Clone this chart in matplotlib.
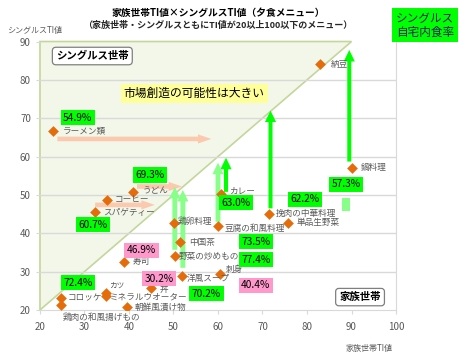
import matplotlib
matplotlib.use('Agg')
import matplotlib.pyplot as plt
from matplotlib.patches import Polygon, Rectangle

plt.rcParams['font.family'] = ['Noto Sans CJK JP', 'DejaVu Sans']

# メニューごとのTI値 (家族世帯, シングルス)
menus = ['納豆', '鍋料理', 'ラーメン類', 'うどん', 'コーヒー', 'スパゲティー',
         '鶏卵料理', '豆腐の和風料理', 'カレー', '中国茶', '野菜の炒めもの', '寿司',
         '洋風スープ', '刺身', '丼', 'カツ', 'ミネラルウオーター', 'コロッケ',
         '鶏肉の和風揚げもの', '朝鮮風漬け物', '挽肉の中華料理', '単品生野菜']
family_ti = [83, 90, 23, 41, 35, 32.4, 50.1, 60.1, 60.6, 51.5, 50.3, 38.9,
             52, 60.4, 44.9, 34.8, 34.8, 24.7, 24.7, 39.5, 71.5, 75.8]
single_ti = [84.1, 57.1, 66.7, 50.8, 48.8, 45.5, 42.7, 42.0, 50.2, 37.6, 34.0, 32.6,
             28.9, 29.4, 25.7, 24.4, 23.6, 23.1, 21.2, 20.8, 45.1, 42.7]

# シングルス自宅内食率
rates = ['54.9%', '69.3%', '60.7%', '63.0%', '62.2%', '57.3%', '73.5%',
         '77.4%', '40.4%', '46.9%', '30.2%', '70.2%', '72.4%']
rate_low = [False, False, False, False, False, False, False,
            False, True, True, True, False, False]

xticks = [20, 30, 40, 50, 60, 70, 80, 90, 100]
yticks = [20, 30, 40, 50, 60, 70, 80, 90]

# 配置 (表示位置)
label_off = [(10, 0), (9, 0), (9, 0), (9, 1), (8, 0), (8, 0),
             (4, 1), (6, -3), (8, 3), (9, 0), (4, 0), (9, 0),
             (4, -3), (6, 4), (9, -1), (3, 7), (4, -1), (7, 0),
             (2, -8), (8, 0), (7, 0), (8, 0)]
rate_pos = [(28.5, 70.1), (44.7, 55.2), (31.9, 42.2), (64.0, 48.0), (79.6, 48.9),
            (88.8, 52.8), (68.5, 37.8), (68.5, 33.1), (68.5, 26.5), (42.8, 35.6),
            (46.7, 28.2), (57.4, 24.2), (28.5, 27.1)]
salmon_arrows = [(23.9, 58.5, 64.6), (41.8, 51.9, 52.2), (32.4, 45.8, 47.4)]
green_arrows = [(89.5, 58.7, 87.8, '#00ff00'), (71.8, 46.5, 72.0, '#00ff00'),
                (61.8, 50.8, 59.7, '#00ff00'), (60.0, 43.0, 58.4, '#88ff88'),
                (50.3, 35.7, 52.1, '#88ff88'), (52.1, 31.0, 51.3, '#88ff88')]

fig = plt.figure(figsize=(4.66, 3.57), dpi=100)
ax = fig.add_axes([0.0858, 0.1317, 0.764, 0.752])
ax.set_xlim(20, 100)
ax.set_ylim(20, 90)

tri = Polygon([(20, 20), (90, 90), (20, 90)], closed=True, fc='#f3f7e9',
              ec='#c3d69b', lw=1.2, zorder=0.5, clip_on=False)
ax.add_patch(tri)
for y in yticks[1:-1]:
    ax.axhline(y, color='#d9d9d9', lw=1, zorder=0.8)

for s in ['top', 'left']:
    ax.spines[s].set_visible(False)
for s in ['right', 'bottom']:
    ax.spines[s].set_color('#d9d9d9')
ax.set_xticks(xticks)
ax.set_yticks(yticks)
ax.tick_params(axis='both', colors='#d9d9d9', labelcolor='#595959', labelsize=7, length=3)
ax.tick_params(axis='x', pad=6)

for x0, x1, y in salmon_arrows:
    ax.arrow(x0, y, x1 - x0, 0, width=1.2, head_width=2.4, head_length=3.0,
             length_includes_head=True, fc='#fbc9ae', ec='none', zorder=1)
for x, y0, y1, c in green_arrows:
    ax.arrow(x, y0, 0, y1 - y0, width=0.9 if c == '#00ff00' else 1.1,
             head_width=2.5, head_length=3.0, length_includes_head=True,
             fc=c, ec='none', zorder=2)
ax.add_patch(Rectangle((87.8, 45.8), 1.9, 3.5, fc='#88ff88', ec='none', zorder=2))

ax.scatter(family_ti, single_ti, marker='D', s=30, c='#e46c0a', zorder=3, lw=0)
for name, x, y, off in zip(menus, family_ti, single_ti, label_off):
    ax.annotate(name, (x, y), xytext=off, textcoords='offset pixels',
                fontsize=5.5 if name == 'カツ' else 6.2, color='#595959',
                ha='left', va='top' if name == '鶏肉の和風揚げもの' else 'center',
                zorder=4)

for txt, (x, y), low in zip(rates, rate_pos, rate_low):
    ax.text(x, y, txt, fontsize=7.3, ha='center', va='center', color='black',
            bbox=dict(boxstyle='square,pad=0.25', fc='#ff99cc' if low else '#00ff00', ec='none'),
            zorder=5)

ax.text(0.147, 0.946, 'シングルス世帯', transform=ax.transAxes, fontsize=7.5,
        fontweight='bold', ha='center', va='center',
        bbox=dict(boxstyle='round,pad=0.35', fc='white', ec='#7f7f7f', lw=0.9))
ax.text(0.899, 0.048, '家族世帯', transform=ax.transAxes, fontsize=7.5,
        fontweight='bold', ha='center', va='center',
        bbox=dict(boxstyle='round,pad=0.35,rounding_size=0.3', fc='white', ec='#7f7f7f', lw=0.9))
ax.text(0.433, 0.806, '市場創造の可能性は大きい', transform=ax.transAxes, fontsize=8.5,
        ha='center', va='center', bbox=dict(boxstyle='square,pad=0.25', fc='#ffff99', ec='none'))

fig.text(0.468, 0.963, '家族世帯TI値×シングルスTI値（夕食メニュー）', fontsize=7,
         fontweight='bold', ha='center', va='center')
fig.text(0.468, 0.928, '（家族世帯・シングルスともにTI値が20以上100以下のメニュー）',
         fontsize=6.5, fontweight='bold', ha='center', va='center', color='#262626')
fig.text(0.075, 0.915, 'シングルスTI値', fontsize=5.8, ha='center', va='center', color='#595959')
fig.text(0.792, 0.012, '家族世帯TI値', fontsize=5.8, ha='center', va='bottom', color='#595959')
fig.text(0.912, 0.93, 'シングルス\n自宅内食率', fontsize=8.4, ha='center', va='center',
         color='#1f1f5f', linespacing=1.1,
         bbox=dict(boxstyle='square,pad=0.3', fc='#00ff00', ec='none'))

fig.savefig('out.png', dpi=100)
